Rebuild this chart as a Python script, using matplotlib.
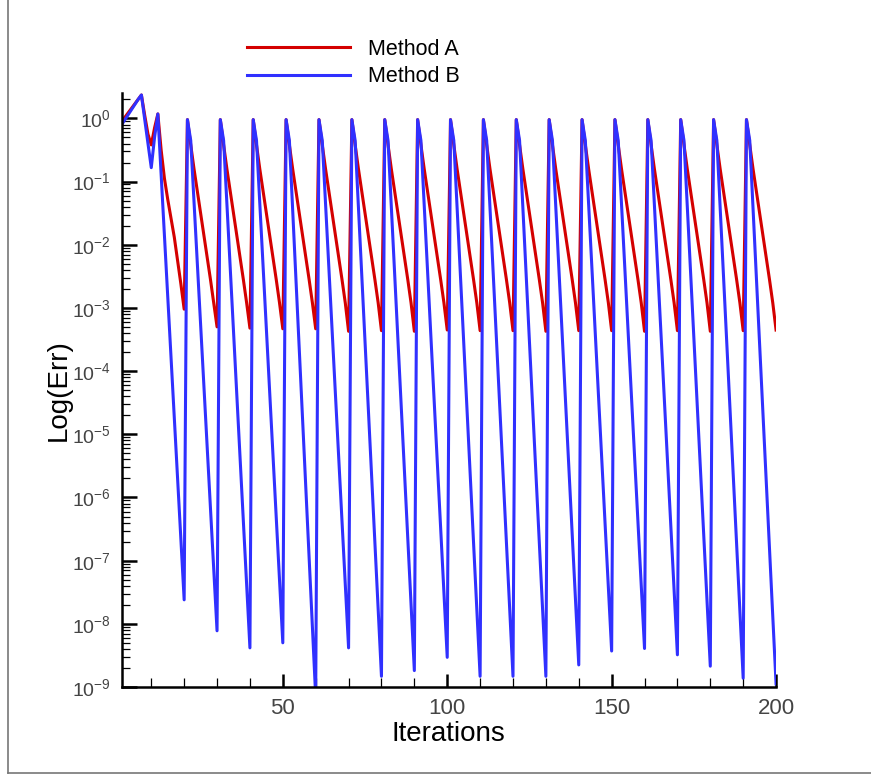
import numpy as np
import matplotlib
matplotlib.use("Agg")
from matplotlib import pyplot as plt
from matplotlib.ticker import MultipleLocator, LogLocator, NullFormatter
from matplotlib.lines import Line2D

plt.rcParams['font.family'] = ['Liberation Sans', 'DejaVu Sans']
plt.rcParams['axes.unicode_minus'] = False

# log10 of the error, one row per 10 iterations (1-10, 11-20, ...)
method_a_log = [
    [-0.05, 0.02, 0.09, 0.16, 0.23, 0.30, 0.37, 0.05, -0.25, -0.42],
    [-0.15, 0.07, -0.50, -0.95, -1.28, -1.58, -1.88, -2.25, -2.62, -3.02],
    [-0.02, -0.42, -0.80, -1.15, -1.50, -1.85, -2.20, -2.55, -2.92, -3.30],
    [-0.02, -0.42, -0.80, -1.15, -1.50, -1.85, -2.20, -2.55, -2.92, -3.32],
    [-0.02, -0.42, -0.80, -1.15, -1.50, -1.85, -2.20, -2.55, -2.92, -3.33],
    [-0.02, -0.42, -0.80, -1.15, -1.50, -1.85, -2.20, -2.55, -2.92, -3.33],
    [-0.02, -0.42, -0.80, -1.15, -1.50, -1.85, -2.20, -2.55, -2.92, -3.37],
    [-0.02, -0.42, -0.80, -1.15, -1.50, -1.85, -2.20, -2.55, -2.92, -3.36],
    [-0.02, -0.42, -0.80, -1.15, -1.50, -1.85, -2.20, -2.55, -2.92, -3.37],
    [-0.02, -0.42, -0.80, -1.15, -1.50, -1.85, -2.20, -2.55, -2.92, -3.35],
    [-0.02, -0.42, -0.80, -1.15, -1.50, -1.85, -2.20, -2.55, -2.92, -3.36],
    [-0.02, -0.42, -0.80, -1.15, -1.50, -1.85, -2.20, -2.55, -2.92, -3.36],
    [-0.02, -0.42, -0.80, -1.15, -1.50, -1.85, -2.20, -2.55, -2.92, -3.37],
    [-0.02, -0.42, -0.80, -1.15, -1.50, -1.85, -2.20, -2.55, -2.92, -3.36],
    [-0.02, -0.42, -0.80, -1.15, -1.50, -1.85, -2.20, -2.55, -2.92, -3.36],
    [-0.02, -0.42, -0.80, -1.15, -1.50, -1.85, -2.20, -2.55, -2.92, -3.37],
    [-0.02, -0.42, -0.80, -1.15, -1.50, -1.85, -2.20, -2.55, -2.92, -3.36],
    [-0.02, -0.42, -0.80, -1.15, -1.50, -1.85, -2.20, -2.55, -2.92, -3.37],
    [-0.02, -0.42, -0.80, -1.15, -1.50, -1.85, -2.20, -2.55, -2.92, -3.36],
    [-0.02, -0.42, -0.80, -1.15, -1.50, -1.85, -2.20, -2.55, -2.92, -3.35],
]

method_b_log = [
    [-0.10, -0.02, 0.06, 0.14, 0.22, 0.30, 0.37, -0.02, -0.40, -0.78],
    [-0.30, 0.07, -0.89, -1.85, -2.81, -3.77, -4.73, -5.69, -6.65, -7.62],
    [-0.02, -0.35, -1.32, -2.29, -3.26, -4.23, -5.20, -6.17, -7.14, -8.11],
    [-0.02, -0.35, -1.35, -2.36, -3.36, -4.37, -5.37, -6.37, -7.38, -8.38],
    [-0.02, -0.35, -1.34, -2.34, -3.33, -4.32, -5.31, -6.31, -7.30, -8.30],
    [-0.02, -0.35, -1.45, -2.55, -3.65, -4.75, -5.85, -6.95, -8.05, -9.15],
    [-0.02, -0.35, -1.35, -2.36, -3.36, -4.37, -5.37, -6.37, -7.38, -8.38],
    [-0.02, -0.35, -1.41, -2.47, -3.53, -4.59, -5.65, -6.71, -7.77, -8.83],
    [-0.02, -0.35, -1.40, -2.45, -3.50, -4.55, -5.60, -6.64, -7.69, -8.74],
    [-0.02, -0.35, -1.37, -2.40, -3.42, -4.44, -5.46, -6.48, -7.51, -8.53],
    [-0.02, -0.35, -1.41, -2.47, -3.53, -4.59, -5.65, -6.71, -7.77, -8.83],
    [-0.02, -0.35, -1.41, -2.47, -3.53, -4.59, -5.65, -6.71, -7.77, -8.83],
    [-0.02, -0.35, -1.41, -2.47, -3.53, -4.59, -5.65, -6.71, -7.77, -8.83],
    [-0.02, -0.35, -1.39, -2.43, -3.46, -4.50, -5.54, -6.58, -7.61, -8.65],
    [-0.02, -0.35, -1.36, -2.37, -3.38, -4.39, -5.40, -6.41, -7.42, -8.43],
    [-0.02, -0.35, -1.36, -2.36, -3.37, -4.37, -5.38, -6.38, -7.39, -8.39],
    [-0.02, -0.35, -1.37, -2.39, -3.40, -4.42, -5.44, -6.46, -7.47, -8.49],
    [-0.02, -0.35, -1.39, -2.43, -3.47, -4.51, -5.55, -6.59, -7.63, -8.67],
    [-0.02, -0.35, -1.41, -2.48, -3.54, -4.60, -5.67, -6.73, -7.80, -8.86],
    [-0.02, -0.35, -1.43, -2.50, -3.58, -4.65, -5.73, -6.80, -7.88, -8.95],
]

labels = ['Method A', 'Method B']
colors = ['#d40000', '#3030ff']


def main():
    err_a = 10.0 ** np.ravel(method_a_log)
    err_b = 10.0 ** np.ravel(method_b_log)
    iterations = np.arange(1, len(err_a) + 1)

    fig = plt.figure(figsize=(8.71, 7.75), dpi=100)
    ax = fig.add_axes([0.1397, 0.1135, 0.7513, 0.7669])

    ax.plot(iterations, err_a, color=colors[0], lw=2.2, label=labels[0])
    ax.plot(iterations, err_b, color=colors[1], lw=2.2, label=labels[1])

    ax.set_yscale('log')
    ax.set_xlim(1, 200)
    ax.set_ylim(1e-9, 2.55)

    ax.xaxis.set_major_locator(MultipleLocator(50))
    ax.xaxis.set_minor_locator(MultipleLocator(10))
    ax.yaxis.set_major_locator(LogLocator(base=10, numticks=20))
    ax.yaxis.set_minor_locator(LogLocator(base=10, subs=np.arange(2, 10), numticks=20))
    ax.yaxis.set_minor_formatter(NullFormatter())

    for side in ['top', 'right']:
        ax.spines[side].set_visible(False)
    for side in ['left', 'bottom']:
        ax.spines[side].set_linewidth(1.8)

    ax.tick_params(which='both', direction='in', colors='black', labelcolor='#444444')
    ax.tick_params(axis='x', which='major', length=9.5, width=1.8, labelsize=16, pad=8)
    ax.tick_params(axis='x', which='minor', length=6.5, width=0.9)
    ax.tick_params(axis='y', which='major', length=11, width=1.8, labelsize=14, pad=8)
    ax.tick_params(axis='y', which='minor', length=5.8, width=0.9)

    ax.set_xlabel('Iterations', fontsize=20, labelpad=1)
    ax.set_ylabel('Log(Err)', fontsize=20, labelpad=0)

    fig.legend(loc='upper left', bbox_to_anchor=(0.2836, 0.950), frameon=False,
               fontsize=15.5, handlelength=4.8, handletextpad=0.84, labelspacing=0.31,
               borderpad=0, borderaxespad=0)

    # page frame (left and bottom edges)
    x0, y0 = 8 / 871, 2 / 775
    fig.add_artist(Line2D([x0, x0], [y0, 1.0], transform=fig.transFigure, color='#777777', lw=1.2))
    fig.add_artist(Line2D([x0, 1.0], [y0, y0], transform=fig.transFigure, color='#777777', lw=1.2))

    fig.savefig('out.png', dpi=100)


if __name__ == "__main__":
    main()
